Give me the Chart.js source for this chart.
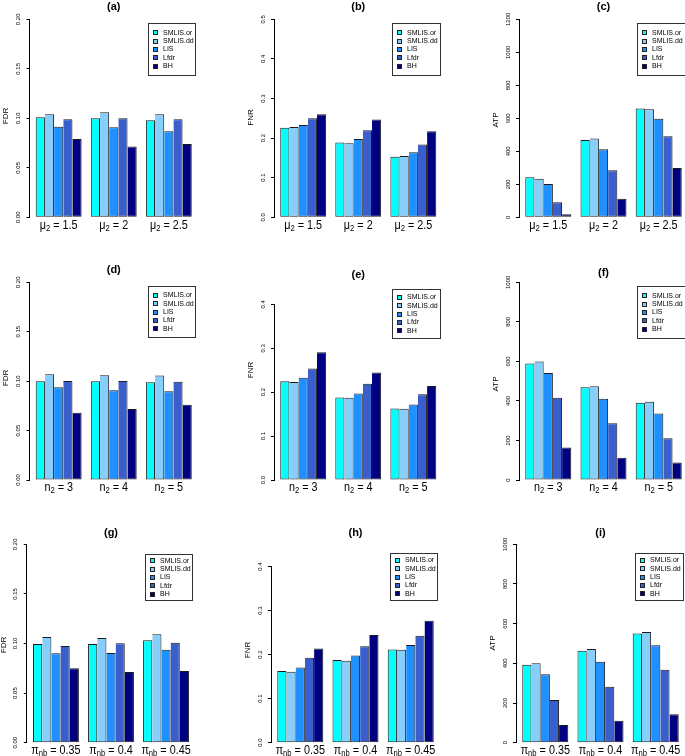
<!DOCTYPE html>
<html>
<head>
<meta charset="utf-8">
<script src="https://cdn.jsdelivr.net/npm/chart.js@4.4.1/dist/chart.umd.min.js"></script>
<style>
  html, body { margin: 0; padding: 0; background: #fff; overflow: hidden; }
  #wrap { position: relative; width: 685px; height: 756px; overflow: hidden; }
  canvas { position: absolute; }
</style>
</head>
<body>
<div id="wrap"></div>
<script>
// methods and colours (legend order)
const methods = ["SMLIS.or", "SMLIS.dd", "LIS", "Lfdr", "BH"];
const colors = ["#00FFFF", "#87CEFA", "#1E90FF", "#3A5FCD", "#000080"];

// category labels: symbol, subscript, value
const muCats = ["1.5", "2", "2.5"];
const nCats = ["3", "4", "5"];
const piCats = ["0.35", "0.4", "0.45"];

// y tick labels
const fdrTicks = ["0.00", "0.05", "0.10", "0.15", "0.20"];
const fnrTicks5 = ["0.0", "0.1", "0.2", "0.3", "0.4", "0.5"];
const fnrTicks4 = ["0.0", "0.1", "0.2", "0.3", "0.4"];
const atpTicks12 = ["0", "200", "400", "600", "800", "1000", "1200"];
const atpTicks10 = ["0", "200", "400", "600", "800", "1000"];

// values, one row per method (SMLIS.or, SMLIS.dd, LIS, Lfdr, BH)
const fdrMu = [
  [0.101, 0.100, 0.098],
  [0.104, 0.106, 0.104],
  [0.0915, 0.091, 0.087],
  [0.099, 0.100, 0.099],
  [0.079, 0.0715, 0.074]
];
const fnrMu = [
  [0.226, 0.189, 0.153],
  [0.228, 0.187, 0.155],
  [0.233, 0.198, 0.164],
  [0.250, 0.220, 0.184],
  [0.260, 0.247, 0.217]
];
const atpMu = [
  [242, 469, 659],
  [234, 477, 655],
  [202, 412, 598],
  [91, 285, 491],
  [18, 113, 299]
];
const fdrN = [
  [0.0998, 0.0998, 0.0988],
  [0.107, 0.106, 0.1056],
  [0.0938, 0.0907, 0.0897],
  [0.1002, 0.1002, 0.0995],
  [0.068, 0.0718, 0.0762]
];
const fnrN = [
  [0.225, 0.188, 0.163],
  [0.223, 0.187, 0.162],
  [0.233, 0.197, 0.172],
  [0.254, 0.219, 0.195],
  [0.291, 0.245, 0.214]
];
const atpN = [
  [589, 469, 391],
  [599, 474, 396],
  [541, 411, 337],
  [416, 287, 211],
  [164, 113, 89]
];
const fdrPi = [
  [0.0995, 0.0995, 0.1032],
  [0.1066, 0.1055, 0.1092],
  [0.0901, 0.0904, 0.0938],
  [0.0975, 0.1002, 0.1008],
  [0.075, 0.0713, 0.0723]
];
const fnrPi = [
  [0.163, 0.188, 0.212],
  [0.161, 0.186, 0.211],
  [0.171, 0.198, 0.222],
  [0.193, 0.219, 0.243],
  [0.214, 0.245, 0.277]
];
const atpPi = [
  [393, 464, 550],
  [400, 472, 558],
  [345, 408, 491],
  [215, 282, 368],
  [89, 111, 143]
];

const FONT = '"Liberation Sans", Arial, Helvetica, sans-serif';
const TICK = 3;

// page layout of each panel (axis x, plot right, top tick y, zero y ...)
const cells = { x: [0, 228, 456], w: [228, 228, 235], y: [0, 250, 500], h: [250, 250, 256] };
const panels = [
  { title: "(a)", vals: fdrMu, ticks: fdrTicks, ylab: "FDR", sym: "\u03BC", sub: "2", cats: muCats, col: 0, row: 0,
    axisX: 29.5, rightX: 198, topY: 19.3, zeroY: 217.3, titleY: 7, ylabY: 116, legend: [148, 23, 47, 52] },
  { title: "(b)", vals: fnrMu, ticks: fnrTicks5, ylab: "FNR", sym: "\u03BC", sub: "2", cats: muCats, col: 1, row: 0,
    axisX: 274, rightX: 442.5, topY: 19.3, zeroY: 217.3, titleY: 7, ylabY: 117.5, legend: [392, 23, 48, 52] },
  { title: "(c)", vals: atpMu, ticks: atpTicks12, ylab: "ATP", sym: "\u03BC", sub: "2", cats: muCats, col: 2, row: 0,
    axisX: 519, rightX: 688, topY: 19.3, zeroY: 217.3, titleY: 7, ylabY: 120, legend: [637, 23, 48, 52] },
  { title: "(d)", vals: fdrN, ticks: fdrTicks, ylab: "FDR", sym: "n", sub: "2", cats: nCats, col: 0, row: 1,
    axisX: 29.5, rightX: 198, topY: 282.3, zeroY: 480, titleY: 270, ylabY: 378, legend: [148, 286, 47, 51] },
  { title: "(e)", vals: fnrN, ticks: fnrTicks4, ylab: "FNR", sym: "n", sub: "2", cats: nCats, col: 1, row: 1,
    axisX: 274, rightX: 442.5, topY: 304.3, zeroY: 480, titleY: 275, ylabY: 370, legend: [392, 289, 48, 49] },
  { title: "(f)", vals: atpN, ticks: atpTicks10, ylab: "ATP", sym: "n", sub: "2", cats: nCats, col: 2, row: 1,
    axisX: 519, rightX: 688, topY: 282.3, zeroY: 480, titleY: 273, ylabY: 384, legend: [637, 286, 48, 52] },
  { title: "(g)", vals: fdrPi, ticks: fdrTicks, ylab: "FDR", sym: "\u03C0", sub: "nb", cats: piCats, col: 0, row: 2,
    axisX: 26.8, rightX: 195.2, topY: 544.3, zeroY: 742.7, titleY: 533, ylabY: 645, legend: [145, 554, 47, 46] },
  { title: "(h)", vals: fnrPi, ticks: fnrTicks4, ylab: "FNR", sym: "\u03C0", sub: "nb", cats: piCats, col: 1, row: 2,
    axisX: 271, rightX: 440, topY: 566.7, zeroY: 742.7, titleY: 533, ylabY: 650, legend: [390, 553, 47, 47] },
  { title: "(i)", vals: atpPi, ticks: atpTicks10, ylab: "ATP", sym: "\u03C0", sub: "nb", cats: piCats, col: 2, row: 2,
    axisX: 516, rightX: 685, topY: 544.3, zeroY: 742.7, titleY: 533, ylabY: 643, legend: [635, 553, 48, 47] }
];

function drawCat(ctx, sym, sub, val, cx, cy) {
  const big = "12px " + FONT, small = "8.5px " + FONT;
  ctx.font = big;
  const w1 = ctx.measureText(sym).width;
  const w3 = ctx.measureText(" = " + val).width;
  ctx.font = small;
  const w2 = ctx.measureText(sub).width;
  const sx = 0.9;
  const total = (w1 + w2 + w3) * sx;
  ctx.save();
  ctx.translate(cx - total / 2, cy);
  ctx.scale(sx, 1);
  ctx.textAlign = "left";
  ctx.textBaseline = "middle";
  ctx.font = big;
  ctx.fillText(sym, 0, 0);
  ctx.font = small;
  ctx.fillText(sub, w1, 3);
  ctx.font = big;
  ctx.fillText(" = " + val, w1 + w2, 0);
  ctx.restore();
}

function makeDecor(p, ox, oy) {
  return {
    id: "decor",
    afterDraw(chart) {
      const ctx = chart.ctx;
      const area = chart.chartArea;
      const ys = chart.scales.y, xs = chart.scales.x;
      ctx.save();
      ctx.fillStyle = "#000";
      // y tick labels, rotated like R's las = 0
      ctx.font = "6px " + FONT;
      ctx.textAlign = "center";
      ctx.textBaseline = "middle";
      p.ticks.forEach(t => {
        ctx.save();
        ctx.translate(area.left - 11, ys.getPixelForValue(+t));
        ctx.rotate(-Math.PI / 2);
        ctx.fillText(t, 0, 0);
        ctx.restore();
      });
      // y axis title
      ctx.font = "8px " + FONT;
      ctx.save();
      ctx.translate(area.left - 23.5, p.ylabY - oy);
      ctx.rotate(-Math.PI / 2);
      ctx.fillText(p.ylab, 0, 0);
      ctx.restore();
      // panel title
      ctx.font = "bold 11px " + FONT;
      ctx.fillText(p.title, (area.left + area.right) / 2, p.titleY - oy);
      // group labels
      p.cats.forEach((c, i) => drawCat(ctx, p.sym, p.sub, c, xs.getPixelForValue(i), area.bottom + 8));
      // legend
      const [lx0, ly0, lw, lh] = p.legend;
      const lx = Math.round(lx0 - ox), ly = Math.round(ly0 - oy);
      ctx.lineWidth = 1;
      ctx.strokeStyle = "#333";
      ctx.strokeRect(lx + 0.5, ly + 0.5, lw, lh);
      const rowH = 8.4;
      const start = ly + (lh - 5 * rowH) / 2 + rowH / 2;
      ctx.font = "7px " + FONT;
      ctx.textAlign = "left";
      chart.data.datasets.forEach((ds, k) => {
        const cy = start + k * rowH;
        ctx.fillStyle = ds.backgroundColor;
        ctx.fillRect(lx + 5, Math.round(cy - 2), 4, 4);
        ctx.strokeStyle = "#222";
        ctx.strokeRect(lx + 5.5, Math.round(cy - 2) + 0.5, 4, 4);
        ctx.fillStyle = "#000";
        ctx.fillText(ds.label, lx + 15, cy + 0.5);
      });
      ctx.restore();
    }
  };
}

const wrap = document.getElementById("wrap");
panels.forEach(p => {
  const ox = cells.x[p.col], oy = cells.y[p.row];
  const cw = cells.w[p.col], ch = cells.h[p.row];
  const cv = document.createElement("canvas");
  cv.width = cw; cv.height = ch;
  cv.style.left = ox + "px"; cv.style.top = oy + "px";
  cv.style.width = cw + "px"; cv.style.height = ch + "px";
  wrap.appendChild(cv);

  const ymax = +p.ticks[p.ticks.length - 1];
  new Chart(cv, {
    type: "bar",
    data: {
      datasets: methods.map((m, k) => ({
        label: m,
        data: p.vals[k].map((v, i) => ({ x: i, y: v })),
        backgroundColor: colors[k],
        borderColor: "#1a1a1a",
        borderWidth: k === 0 ? 1 : { left: 0, top: 1, right: 1, bottom: 1 },
        borderSkipped: false,
        categoryPercentage: 5 / 6,
        barPercentage: 1
      }))
    },
    options: {
      responsive: false,
      animation: false,
      devicePixelRatio: 1,
      layout: {
        padding: {
          left: p.axisX - ox - TICK,
          top: p.topY - oy,
          right: ox + cw - p.rightX,
          bottom: oy + ch - p.zeroY
        }
      },
      plugins: { legend: { display: false }, tooltip: { enabled: false }, title: { display: false } },
      scales: {
        x: {
          type: "linear", min: -0.53, max: 2.53, display: false, offset: false,
          afterBuildTicks: s => { s.ticks = [0, 1, 2].map(v => ({ value: v })); }
        },
        y: {
          min: 0, max: ymax,
          afterBuildTicks: s => { s.ticks = p.ticks.map(t => ({ value: +t })); },
          ticks: { display: false },
          grid: { drawOnChartArea: false, drawTicks: true, tickLength: TICK, color: "#000", lineWidth: 1 },
          border: { display: true, color: "#000", width: 1 }
        }
      }
    },
    plugins: [makeDecor(p, ox, oy)]
  });
});
</script>
</body>
</html>
